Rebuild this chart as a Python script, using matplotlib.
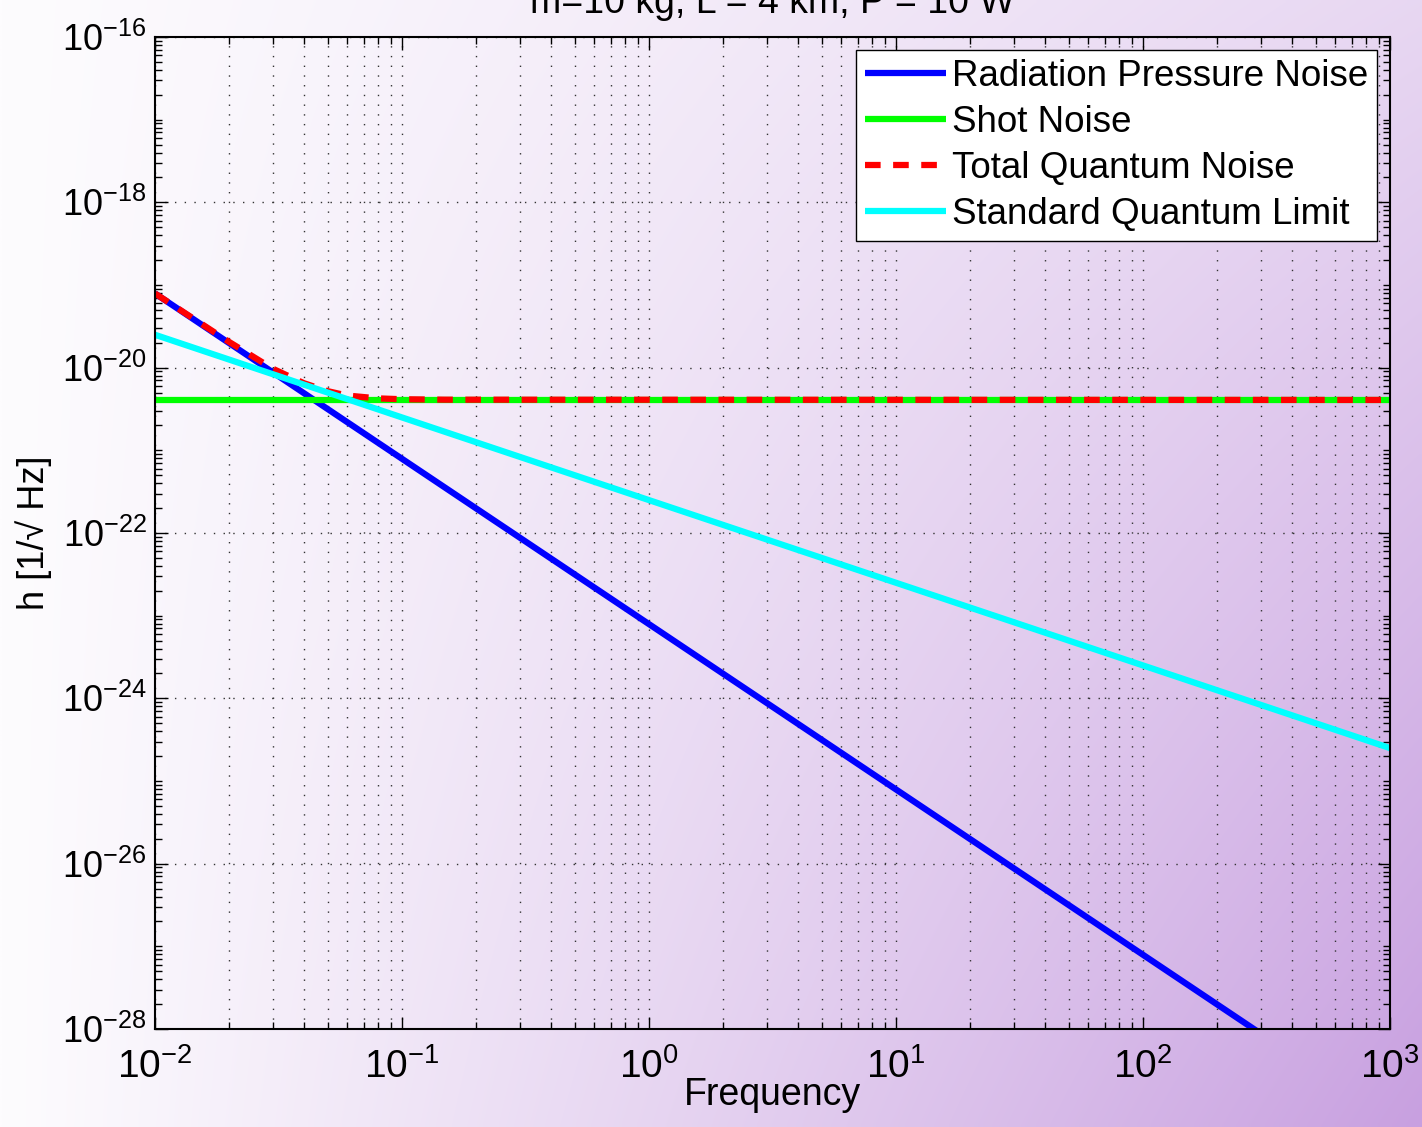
import numpy as np
import matplotlib as mpl
mpl.use("Agg")
mpl.rcParams['font.family'] = ['Liberation Sans', 'DejaVu Sans']
mpl.rcParams['mathtext.fontset'] = 'custom'
mpl.rcParams['mathtext.rm'] = 'Liberation Sans'
mpl.rcParams['mathtext.it'] = 'Liberation Sans'
mpl.rcParams['mathtext.bf'] = 'Liberation Sans:bold'
import matplotlib.pyplot as plt
import matplotlib.ticker as ticker
from matplotlib.colors import to_rgb

# values
freq_rp = [1e-2, 1e3]
rad_pressure = [7.9e-20, 7.9e-30]

freq_shot = [1e-2, 1e3]
shot_noise = [4.07e-21, 4.07e-21]

freq_total = [0.01, 0.02, 0.03, 0.04, 0.05, 0.06, 0.08, 0.1, 0.15, 1000]
total_noise = [7.9e-20, 2.04e-20, 9.7e-21, 6.5e-21, 5.2e-21, 4.6e-21,
               4.25e-21, 4.15e-21, 4.10e-21, 4.07e-21]

freq_sql = [1e-2, 1e3]
sql = [2.5e-20, 2.5e-25]

labels = ["Radiation Pressure Noise", "Shot Noise",
          "Total Quantum Noise", "Standard Quantum Limit"]
title = "m=10 kg, L = 4 km, P = 10 W"

W, H = 1422, 1127
fig = plt.figure(figsize=(W / 100, H / 100), dpi=100)

# purple-ish background gradient over the whole figure
bg = fig.add_axes([0, 0, 1, 1], zorder=-10)
xx, yy = np.meshgrid(np.linspace(0, 1, 300), np.linspace(0, 1, 240))
w = np.clip(xx ** 1.1 * (0.4 + 0.6 * yy), 0, 1)
c0 = np.array(to_rgb("#fdfcfe"))
c1 = np.array(to_rgb("#c8a0e0"))
img = c0[None, None, :] * (1 - w[..., None]) + c1[None, None, :] * w[..., None]
bg.imshow(img, extent=[0, 1, 1, 0], aspect="auto", interpolation="bilinear")
bg.set_axis_off()

ax = fig.add_axes([155 / W, 1 - 1029 / H, (1390 - 155) / W, (1029 - 37) / H])
ax.set_facecolor("none")

lw = 4.5
ax.loglog(freq_rp, rad_pressure, color="#0000ff", lw=lw, label=labels[0],
          solid_capstyle="butt")
ax.loglog(freq_shot, shot_noise, color="#00ff00", lw=lw, label=labels[1],
          solid_capstyle="butt")
ax.loglog(freq_total, total_noise, color="#ff0000", lw=lw, label=labels[2],
          dashes=(2.5, 2.0))
ax.loglog(freq_sql, sql, color="#00ffff", lw=lw, label=labels[3],
          solid_capstyle="butt")

ax.set_xlim(1e-2, 1e3)
ax.set_ylim(1e-28, 1e-16)

ax.xaxis.set_major_locator(ticker.LogLocator(base=10, numticks=20))
ax.xaxis.set_minor_locator(ticker.LogLocator(base=10, subs=np.arange(2, 10), numticks=50))
ax.yaxis.set_major_locator(ticker.FixedLocator([10.0 ** k for k in range(-28, -15, 2)]))
ax.yaxis.set_minor_locator(ticker.LogLocator(base=10, subs=np.arange(1, 10), numticks=50))
ax.xaxis.set_minor_formatter(ticker.NullFormatter())
ax.yaxis.set_minor_formatter(ticker.NullFormatter())

def fmt(v, pos):
    e = int(round(np.log10(v)))
    return r"$\mathregular{10^{%d}}$" % e

ax.xaxis.set_major_formatter(ticker.FuncFormatter(fmt))
ax.yaxis.set_major_formatter(ticker.FuncFormatter(fmt))

ax.tick_params(which="both", direction="in", top=True, right=True,
               width=1.0, color="black")
ax.tick_params(which="major", length=9)
ax.tick_params(which="minor", length=5)
ax.tick_params(axis="x", pad=14, labelsize=28)
ax.tick_params(axis="y", pad=6, labelsize=26)

ax.grid(True, which="major", linestyle=(0, (1, 6)), color="#333333", lw=1.0)
ax.grid(True, which="minor", axis="x", linestyle=(0, (1, 6)), color="#333333", lw=1.0)
for s in ax.spines.values():
    s.set_linewidth(1.5)

ax.set_xlabel("Frequency", fontsize=27, labelpad=-7)
ax.set_ylabel("h [1/\u221a Hz]", fontsize=26)
ax.yaxis.set_label_coords(-103 / (1390 - 155), 0.5)

fig.text(772 / W, 1 - 13 / H, title, fontsize=27, ha="center", va="baseline")

leg = ax.legend(loc="upper right", fontsize=26.5, frameon=True, fancybox=False,
                framealpha=1.0, handlelength=2.2, handletextpad=0.15,
                labelspacing=0.3, borderpad=0.25, borderaxespad=0.35)
leg.get_frame().set_edgecolor("black")
leg.get_frame().set_linewidth(1.0)

fig.savefig("out.png", dpi=100)
